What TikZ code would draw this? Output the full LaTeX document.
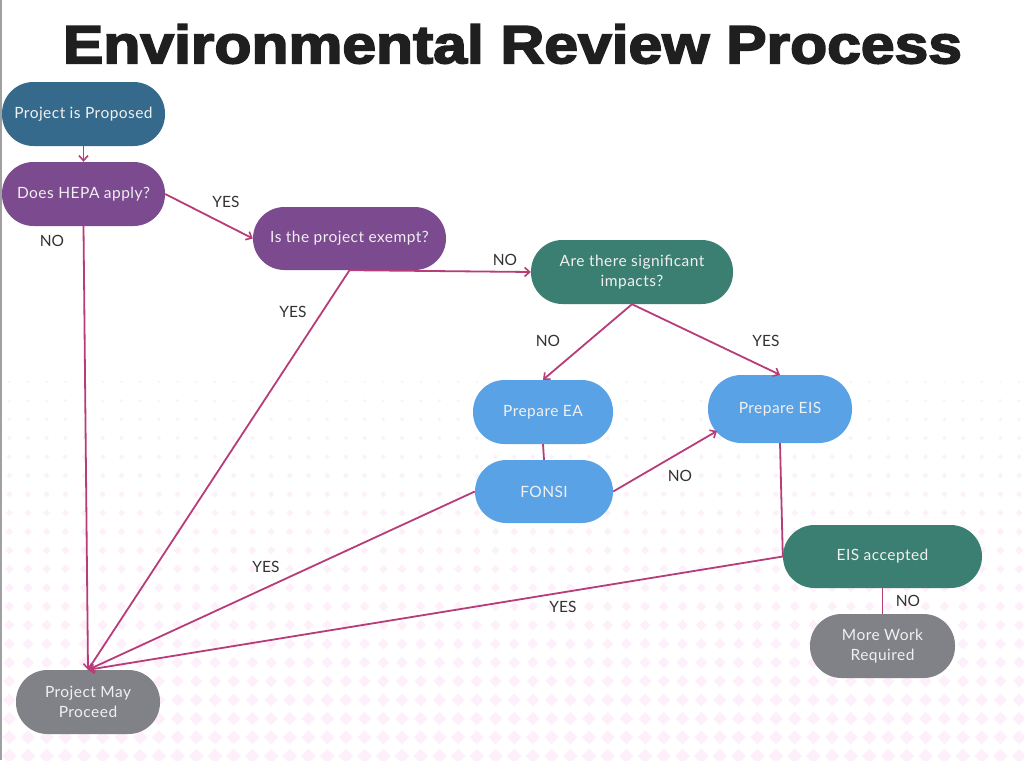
\documentclass[tikz,border=0pt]{standalone}
\usepackage{fontspec}
\setmainfont{Lato}
\newfontfamily\nodefont{Lato}[LetterSpace=3]
\newfontfamily\titlefont{Liberation Sans Bold}[FakeBold=3]
\usetikzlibrary{arrows.meta,calc}
\definecolor{cproposed}{HTML}{356A8C}
\definecolor{cpurple}{HTML}{7B4A8F}
\definecolor{cgreen}{HTML}{3B7E72}
\definecolor{cblue}{HTML}{5AA2E6}
\definecolor{cgray}{HTML}{808287}
\definecolor{cedge}{HTML}{B73C78}
\definecolor{clabel}{HTML}{333333}
\definecolor{cdot}{HTML}{FDF0FB}
\definecolor{cborder}{HTML}{A0A0A0}
\tikzset{
  box/.style={rounded corners=31.5pt, minimum height=64pt, text=white!94!black,
    font=\nodefont\fontsize{15.5}{20}\selectfont, align=center, inner sep=0pt},
  edge/.style={draw=cedge, line width=1.8pt},
  arr/.style={edge, -{Straight Barb[length=5pt,width=9pt,line width=1.6pt]}},
  lbl/.style={text=clabel, font=\fontsize{15.5}{18}\selectfont, inner sep=0pt}
}
\begin{document}
\begin{tikzpicture}[x=1pt,y=-1pt]
\useasboundingbox (0,0) rectangle (1024,760);
\fill[white] (0,0) rectangle (1024,760);
% dotted background
\foreach \r in {0,...,20}{
  \pgfmathsetmacro{\yy}{382+18.7*\r}
  \pgfmathsetmacro{\ss}{1.3+0.3*\r}
  \foreach \c in {0,...,54}{
    \pgfmathsetmacro{\xx}{9.3+18.7*\c}
    \fill[cdot] (\xx-\ss,\yy) -- (\xx,\yy-\ss) -- (\xx+\ss,\yy) -- (\xx,\yy+\ss) -- cycle;
  }
}
\draw[cborder, line width=2pt] (1,0) -- (1,760);
% title
\node[inner sep=0pt, text=black!88] (title) at (512.5,44)
  {\resizebox{899pt}{39pt}{\titlefont Environmental Review Process}};
% nodes
\node[box, fill=cproposed, minimum width=163pt] (prop) at (83.5,114) {Project is Proposed};
\node[box, fill=cpurple, minimum width=163pt] (hepa) at (83.5,194) {Does HEPA apply?};
\node[box, fill=cpurple, minimum width=193pt, minimum height=63pt] (ex) at (349.5,238.5) {Is the project exempt?};
\node[box, fill=cgreen, minimum width=202pt] (imp) at (632,272) {Are there significant\\impacts?};
\node[box, fill=cblue, minimum width=140pt] (ea) at (543,412) {Prepare EA};
\node[box, fill=cblue, minimum width=144pt, minimum height=68pt, rounded corners=33.5pt] (eis) at (780,409) {Prepare EIS};
\node[box, fill=cblue, minimum width=138pt, minimum height=63pt] (fonsi) at (544,491.5) {FONSI};
\node[box, fill=cgreen, minimum width=199pt, minimum height=63pt] (acc) at (882.5,556.5) {EIS accepted};
\node[box, fill=cgray, minimum width=145pt] (more) at (882.5,646) {More Work\\Required};
\node[box, fill=cgray, minimum width=144pt] (pm) at (88,702) {Project May\\Proceed};
\coordinate (eisin) at (717,431);
% connectors
\draw[arr] (prop.south) -- (hepa.north);
\draw[arr] (hepa.east) -- (ex.west);
\draw[arr] (hepa.south) -- (pm.north);
\draw[arr] (ex.south) -- (imp.west);
\draw[arr] (ex.south) -- (pm.north);
\draw[arr] (imp.south) -- (ea.north);
\draw[arr] (imp.south) -- (eis.north);
\draw[edge] (ea.south) -- (fonsi.north);
\draw[arr] (fonsi.east) -- (eisin);
\draw[arr] (fonsi.west) -- (pm.north);
\draw[arr] (eis.south) -- (acc.west) -- (pm.north);
\draw[edge] (acc.south) -- (more.north);
% labels
\node[lbl] (l1) at (226,202) {YES};
\node[lbl] (l2) at (52,241) {NO};
\node[lbl] (l3) at (505,260) {NO};
\node[lbl] (l4) at (293,312) {YES};
\node[lbl] (l5) at (548,341) {NO};
\node[lbl] (l6) at (766,341) {YES};
\node[lbl] (l7) at (680,476) {NO};
\node[lbl] (l8) at (266,567) {YES};
\node[lbl] (l9) at (563,607) {YES};
\node[lbl] (l10) at (908,601) {NO};
\end{tikzpicture}
\end{document}
